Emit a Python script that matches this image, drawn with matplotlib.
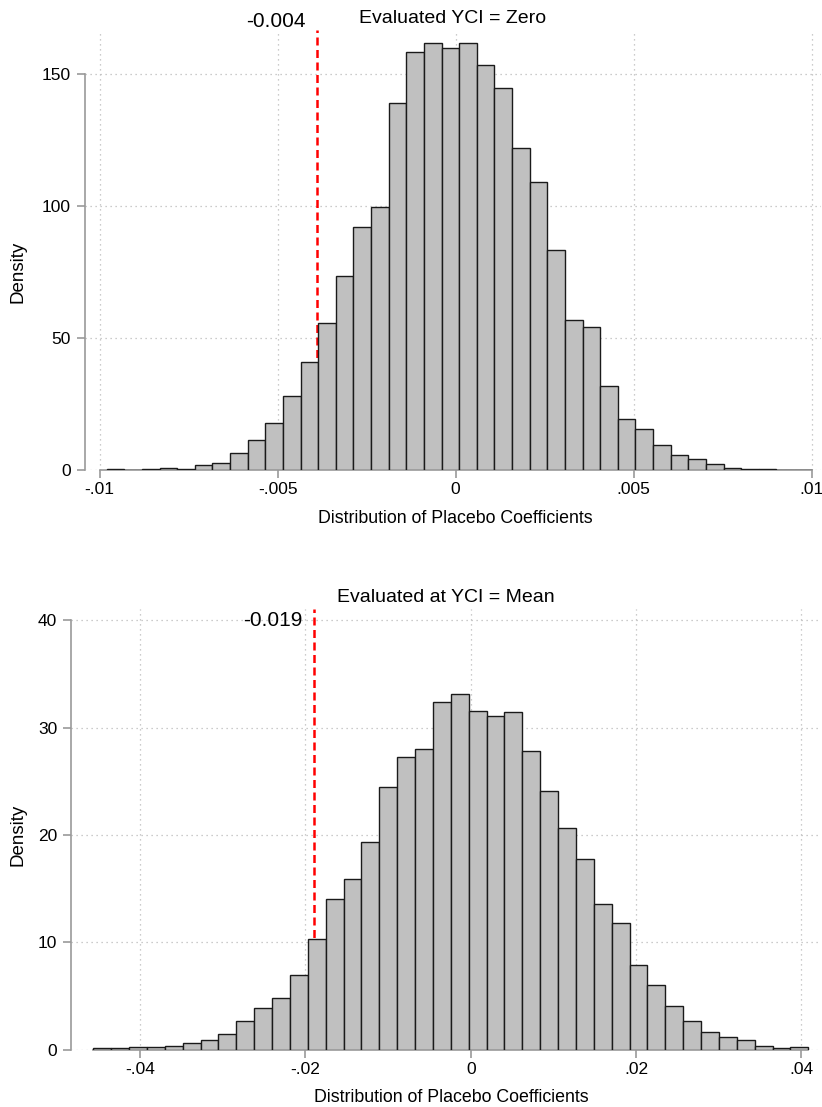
import matplotlib.pyplot as plt
import numpy as np

plt.rcParams['font.family'] = ['Liberation Sans', 'DejaVu Sans']

# top panel: placebo coefficients, YCI = Zero (40 bins, density)
top_lo, top_hi = -0.0098, 0.0100
top_heights = [0.2, 0.1, 0.2, 0.6, 0.4, 1.8, 2.5, 6.3, 11.2, 17.9,
               28.0, 41.0, 55.8, 73.5, 91.9, 99.5, 138.9, 158.5, 161.6, 159.7,
               161.9, 153.4, 144.6, 122.1, 109.0, 83.3, 56.8, 54.0, 31.8, 19.4,
               15.4, 9.5, 5.8, 4.0, 2.1, 0.75, 0.4, 0.2, 0.1, 0.15]
top_line = -0.0039
top_line_label = '-0.004'
top_xticks = [-0.01, -0.005, 0, 0.005, 0.01]
top_xlabels = ['-.01', '-.005', '0', '.005', '.01']
top_yticks = [0, 50, 100, 150]

# bottom panel: placebo coefficients, YCI = Mean
bot_lo, bot_hi = -0.04566, 0.04085
bot_heights = [0.1, 0.15, 0.2, 0.2, 0.3, 0.65, 0.93, 1.46, 2.67, 3.85,
               4.82, 6.93, 10.28, 14.0, 15.86, 19.3, 24.5, 27.26, 27.97, 32.4,
               33.15, 31.55, 31.08, 31.5, 27.8, 24.1, 20.6, 17.8, 13.6, 11.8,
               7.88, 5.97, 4.04, 2.64, 1.64, 1.18, 0.84, 0.37, 0.15, 0.26]
bot_line = -0.019
bot_line_label = '-0.019'
bot_xticks = [-0.04, -0.02, 0, 0.02, 0.04]
bot_xlabels = ['-.04', '-.02', '0', '.02', '.04']
bot_yticks = [0, 10, 20, 30, 40]

W, H = 822, 1107
fig = plt.figure(figsize=(W / 100, H / 100), dpi=100)

def px_axes(l, t, r, b):
    return fig.add_axes([l / W, 1 - b / H, (r - l) / W, (b - t) / H])

ax1 = px_axes(85, 30, 821, 470)
ax2 = px_axes(71, 609, 820, 1049.5)

def panel(ax, lo, hi, heights, line, label, label_y, xticks, xlabels, yticks,
          xlim, ylim, xbounds, title):
    edges = np.linspace(lo, hi, len(heights) + 1)
    ax.bar(edges[:-1], heights, width=np.diff(edges), align='edge',
           color='#c0c0c0', edgecolor='#1a1a1a', linewidth=1.0, zorder=3)
    ax.axvline(line, color='#ff0000', lw=1.8, dashes=(3.2, 1.8), zorder=2)
    ax.annotate(label, xy=(line, label_y), xytext=(-8, 0),
                textcoords='offset points', ha='right', va='center',
                fontsize=15, annotation_clip=False)
    ax.set_xlim(*xlim)
    ax.set_ylim(*ylim)
    ax.set_xticks(xticks)
    ax.set_xticklabels(xlabels)
    ax.set_yticks(yticks)
    ax.grid(True, color='#bbbbbb', linestyle=(0, (1, 3)), linewidth=0.9, zorder=0)
    ax.set_axisbelow(True)
    for s in ['top', 'right']:
        ax.spines[s].set_visible(False)
    ax.spines['left'].set_bounds(yticks[0], yticks[-1])
    ax.spines['bottom'].set_bounds(*xbounds)
    for s in ['left', 'bottom']:
        ax.spines[s].set_color('#999999')
        ax.spines[s].set_linewidth(1.2)
    ax.tick_params(colors='#999999', labelcolor='black', labelsize=12.5,
                   length=6, width=1.2)
    ax.tick_params(axis='x', pad=3)
    ax.tick_params(axis='y', pad=4)
    ax.set_title(title, fontsize=14, pad=5)
    # axis titles centred on the axis line range, Stata style
    xm = (np.mean(xbounds) - xlim[0]) / (xlim[1] - xlim[0])
    ax.set_xlabel('Distribution of Placebo Coefficients', fontsize=12.8)
    ax.xaxis.set_label_coords(xm, -0.09)
    # y title centred on the axis line, placed in figure pixels
    y0 = ax.transData.transform((0, yticks[0]))[1]
    y1 = ax.transData.transform((0, yticks[-1]))[1]
    fig.text(18 / W, (y0 + y1) / 2 / H, 'Density', rotation=90,
             ha='center', va='center', fontsize=13.5)

panel(ax1, top_lo, top_hi, top_heights, top_line, top_line_label, 170,
      top_xticks, top_xlabels, top_yticks,
      (-0.01041, 0.01026), (0, 166.7), (-0.01, 0.01),
      'Evaluated YCI = Zero')
panel(ax2, bot_lo, bot_hi, bot_heights, bot_line, bot_line_label, 40,
      bot_xticks, bot_xlabels, bot_yticks,
      (-0.04836, 0.04226), (0, 41.06), (bot_lo, bot_hi),
      'Evaluated at YCI = Mean')

fig.savefig('out.png', dpi=100)
